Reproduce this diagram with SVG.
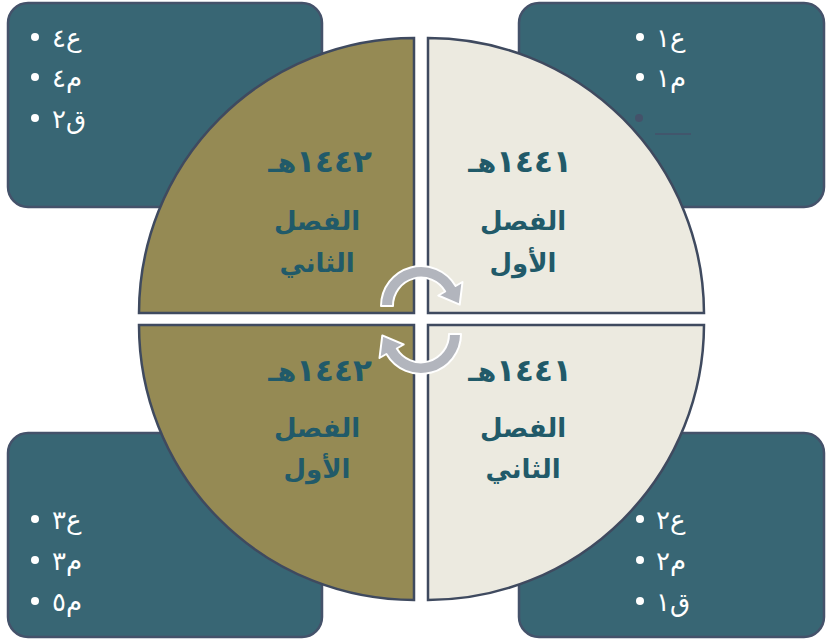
<svg xmlns="http://www.w3.org/2000/svg" width="826" height="641" viewBox="0 0 826 641">
<style>
.box{fill:#386674;stroke:#44526a;stroke-width:2.5}
.ql{fill:#958a54;stroke:#3f4a5f;stroke-width:2.5}
.qr{fill:#eceae0;stroke:#3f4a5f;stroke-width:2.5}
.yr{font-family:"DejaVu Sans",sans-serif;font-weight:bold;font-size:27px;fill:#215a69;text-anchor:middle}
.yr .d{font-size:31px}
.lb{font-family:"DejaVu Sans",sans-serif;font-weight:bold;font-size:26px;fill:#215a69;text-anchor:middle}
.bt{font-family:"DejaVu Sans",sans-serif;font-size:26px;fill:#ffffff}
.dot{fill:#ffffff}
.arr{fill:#b2b5bd;stroke:#ffffff;stroke-width:2;stroke-linejoin:round}
</style>
<rect width="826" height="641" fill="#ffffff"/>
<g id="box-tl">
<rect class="box" x="8" y="3" width="314" height="204" rx="20"/>
<circle class="dot" cx="35" cy="37" r="4"/><text class="bt" x="52" y="47">ع٤</text>
<circle class="dot" cx="35" cy="77" r="4"/><text class="bt" x="52" y="87">م٤</text>
<circle class="dot" cx="35" cy="118" r="4"/><text class="bt" x="52" y="128">ق٢</text>
</g>
<g id="box-tr">
<rect class="box" x="519" y="3" width="305" height="204" rx="20"/>
<circle class="dot" cx="640" cy="37" r="4"/><text class="bt" x="656" y="47">ع١</text>
<circle class="dot" cx="640" cy="77" r="4"/><text class="bt" x="656" y="87">م١</text>
<circle cx="639" cy="118" r="4" fill="#44526a"/>
<line x1="655" y1="134" x2="691" y2="134" stroke="#44526a" stroke-width="1.5"/>
</g>
<g id="box-bl">
<rect class="box" x="8" y="433" width="314" height="204" rx="20"/>
<circle class="dot" cx="35" cy="519" r="4"/><text class="bt" x="52" y="529">ع٣</text>
<circle class="dot" cx="35" cy="560" r="4"/><text class="bt" x="52" y="570">م٣</text>
<circle class="dot" cx="35" cy="601" r="4"/><text class="bt" x="52" y="611">م٥</text>
</g>
<g id="box-br">
<rect class="box" x="519" y="433" width="305" height="204" rx="20"/>
<circle class="dot" cx="640" cy="519" r="4"/><text class="bt" x="656" y="529">ع٢</text>
<circle class="dot" cx="640" cy="560" r="4"/><text class="bt" x="656" y="570">م٢</text>
<circle class="dot" cx="640" cy="601" r="4"/><text class="bt" x="656" y="611">ق١</text>
</g>
<g id="q-tl">
<path class="ql" d="M414,313 L414,38 A275,275 0 0 0 139,313 Z"/>
<text class="yr" x="320" y="172"><tspan class="d">١٤٤٢</tspan>هـ</text>
<text class="lb" x="317" y="230">الفصل</text>
<text class="lb" x="317" y="272">الثاني</text>
</g>
<g id="q-tr">
<path class="qr" d="M428,313 L428,38 A276,276 0 0 1 704,313 Z"/>
<text class="yr" x="520" y="172"><tspan class="d">١٤٤١</tspan>هـ</text>
<text class="lb" x="523" y="230">الفصل</text>
<text class="lb" x="523" y="272">الأول</text>
</g>
<g id="q-bl">
<path class="ql" d="M414,325 L139,325 A275,275 0 0 0 414,600 Z"/>
<text class="yr" x="320" y="381"><tspan class="d">١٤٤٢</tspan>هـ</text>
<text class="lb" x="317" y="437">الفصل</text>
<text class="lb" x="317" y="478">الأول</text>
</g>
<g id="q-br">
<path class="qr" d="M428,325 L428,600 A276,276 0 0 0 704,325 Z"/>
<text class="yr" x="520" y="381"><tspan class="d">١٤٤١</tspan>هـ</text>
<text class="lb" x="523" y="437">الفصل</text>
<text class="lb" x="523" y="478">الثاني</text>
</g>
<g id="connectors">
<path class="arr" d="M381,306 A40,40 0 0 1 455.6,286 L462.5,282 L459.7,304.6 L438.3,295.5 L445.2,291.5 A28,28 0 0 0 393,306 Z"/>
<path class="arr" transform="rotate(180 421 320)" d="M381,306 A40,40 0 0 1 455.6,286 L462.5,282 L459.7,304.6 L438.3,295.5 L445.2,291.5 A28,28 0 0 0 393,306 Z"/>
</g>
</svg>
